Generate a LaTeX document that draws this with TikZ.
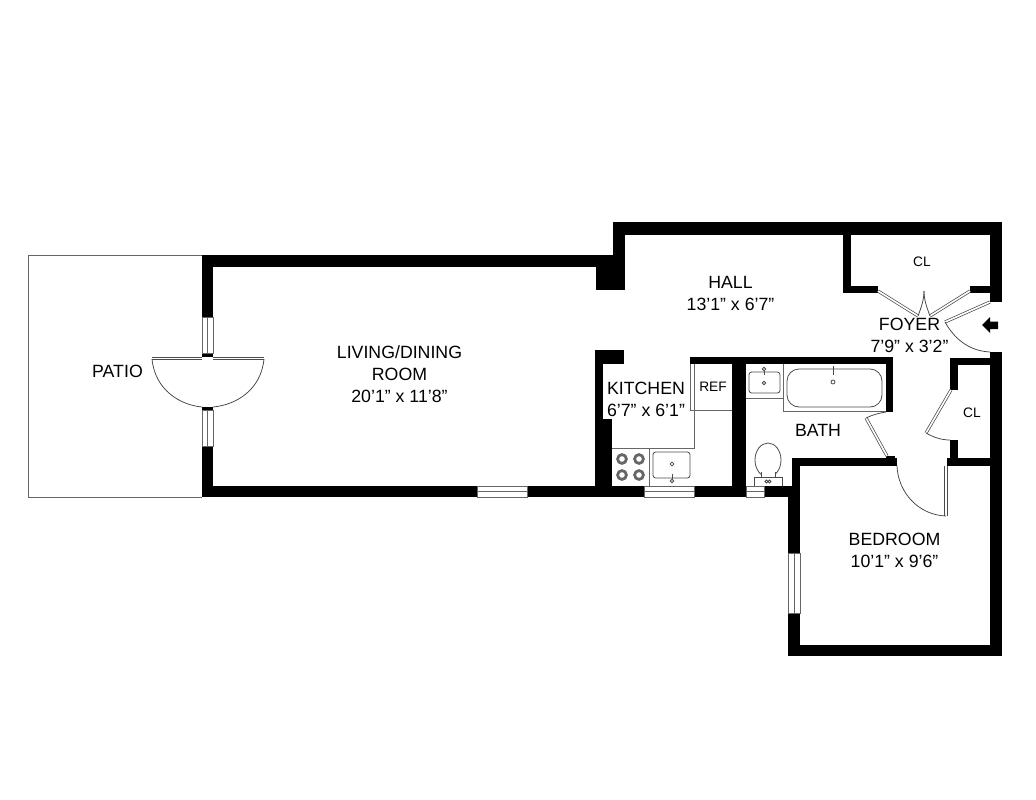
\documentclass[tikz,border=0pt]{standalone}
\usepackage{fontspec}
\setmainfont{Liberation Sans}
\tikzset{
    wall/.style={fill=black},
    fixture/.style={draw=black!70,line width=0.6pt},
    thinline/.style={draw=black!60,line width=0.6pt},
    leaf/.style={draw=black!70,double=white,line width=0.55pt,double distance=1.2pt},
    swing/.style={draw=black!75,line width=0.55pt},
    glass/.style={draw=black!60,fill=white,line width=0.55pt},
    room/.style={align=center,font=\fontsize{13.3}{16.6}\selectfont,inner sep=0pt},
    small/.style={font=\fontsize{10.3}{12}\selectfont,inner sep=0pt}
}
\begin{document}
\begin{tikzpicture}[x=0.75pt,y=-0.75pt]
    \useasboundingbox (0,0) rectangle (1036,800);
    % patio
    \draw[black!60,line width=0.6pt] (202,255) -- (28,255) -- (28,497) -- (202,497);
    % outer walls
    \fill[wall] (202,255) rectangle (625,267);
    \fill[wall] (202,255) rectangle (213,317);
    \fill[wall] (202,353) rectangle (213,357);
    \fill[wall] (202,407) rectangle (213,410);
    \fill[wall] (202,446) rectangle (213,497);
    \fill[wall] (202,486) rectangle (477,497);
    \fill[wall] (527,486) rectangle (644,497);
    \fill[wall] (694,486) rectangle (746,497);
    \fill[wall] (764,486) rectangle (799,497);
    \fill[wall] (613,222) rectangle (1002,235);
    \fill[wall] (613,222) rectangle (625,290);
    \fill[wall] (596,267) rectangle (625,290);
    \fill[wall] (990,222) rectangle (1002,302);
    \fill[wall] (990,352) rectangle (1002,656);
    % closets
    \fill[wall] (843,235) rectangle (851,293);
    \fill[wall] (843,286) rectangle (878,293);
    \fill[wall] (970,286) rectangle (990,293);
    \fill[wall] (950,358) rectangle (990,365);
    \fill[wall] (950,358) rectangle (958,390);
    \fill[wall] (950,440) rectangle (958,466);
    \fill[wall] (947,458) rectangle (990,466);
    % kitchen and bath
    \fill[wall] (595,350) rectangle (624,364);
    \fill[wall] (595,350) rectangle (603,419);
    \fill[wall] (595,419) rectangle (612,497);
    \fill[wall] (690,357) rectangle (893,364);
    \fill[wall] (732,357) rectangle (746,497);
    \fill[wall] (886,357) rectangle (893,412);
    % bedroom
    \fill[wall] (792,458) rectangle (897,466);
    \fill[wall] (792,458) rectangle (800,490);
    \fill[wall] (788,486) rectangle (800,553);
    \fill[wall] (788,613) rectangle (800,656);
    \fill[wall] (788,645) rectangle (1002,656);
    \fill[wall] (886,456) rectangle (895,460);
    % windows
    \draw[glass] (202,317) rectangle (213,353);
    \draw[thinline] (207.5,317) -- (207.5,353);
    \draw[glass] (202,410) rectangle (213,446);
    \draw[thinline] (207.5,410) -- (207.5,446);
    \draw[glass] (477,486) rectangle (527,497);
    \draw[thinline] (477,491.5) -- (527,491.5);
    \draw[glass] (644,486) rectangle (694,497);
    \draw[thinline] (644,491.5) -- (694,491.5);
    \draw[glass] (746,486) rectangle (764,497);
    \draw[thinline] (746,491.5) -- (764,491.5);
    \draw[glass] (788,553) rectangle (800,613);
    \draw[thinline] (794,553) -- (794,613);
    % patio doors
    \draw[leaf] (152,358.5) -- (202,358.5);
    \draw[leaf] (213,358.5) -- (264,358.5);
    \draw[swing] (152,359) .. controls (155,390) and (180,405) .. (202,407);
    \draw[swing] (264,359) .. controls (261,390) and (236,405) .. (213,407);
    % closet doors
    \draw[leaf] (878,291) -- (918,316);
    \draw[leaf] (970,291) -- (930,316);
    \draw[swing] (918,316) .. controls (921,308) and (924,300) .. (924,291);
    \draw[swing] (930,316) .. controls (927,308) and (924,300) .. (924,291);
    \draw[leaf] (990,302) -- (945,322);
    \draw[swing] (945,322) .. controls (955,340) and (970,351) .. (990,352);
    \draw[leaf] (951,390) -- (926,433);
    \draw[swing] (926,433) .. controls (933,437) and (941,440) .. (950,440);
    % bath and bedroom doors
    \draw[leaf] (866,418) -- (887,456);
    \draw[swing] (866,418) .. controls (872,415) and (879,413) .. (886,412);
    \draw[leaf] (946,466) -- (946,516);
    \draw[swing] (897,466) .. controls (898,492) and (918,515) .. (946,516);
    % kitchen fixtures
    \draw[thinline] (690,364) -- (690,410) -- (732,410);
    \draw[thinline] (694,364) -- (694,448) -- (612,448);
    \draw[thinline] (649,448) -- (649,486);
    \foreach \bx in {622,639}
        \foreach \by in {459,475}
        {
            \draw[black!60,line width=2.1pt] (\bx,\by) circle (4.4);
        }
    \draw[fixture,rounded corners=2pt] (653,452) rectangle (690,478);
    \draw[fixture] (672,464) circle (1.9);
    \draw[fixture] (672,481) circle (1.7);
    \draw[fixture] (672,474) -- (672,479);
    % bath fixtures
    \draw[thinline] (746,398) -- (783,398);
    \draw[thinline] (783,364) -- (783,411) -- (886,411);
    \draw[fixture,rounded corners=2pt] (749,372) rectangle (780,393);
    \draw[fixture] (764,383) circle (1.7);
    \draw[fixture] (764,369) circle (1.7);
    \draw[fixture] (764,371) -- (764,375);
    \draw[fixture,rounded corners=9pt] (787,369) rectangle (882,407);
    \draw[fixture] (833,382) circle (2);
    \draw[fixture] (833,366) -- (833,375);
    \draw[fixture] (768,460) ellipse (13 and 17);
    \draw[fixture,fill=white] (761,472) -- (761,477) -- (775,477) -- (775,472);
    \draw[fixture] (754,486) -- (754,477) -- (782,477) -- (782,486);
    \draw[fixture] (766.5,481.5) circle (1.5);
    \draw[fixture] (769.5,481.5) circle (1.5);
    % entry arrow
    \fill[wall] (982,325) -- (990,317) -- (990,321.5) -- (998,321.5) -- (998,329) -- (990,329) -- (990,333) -- cycle;
    % labels
    \node[room] (patio) at (117.5,371) {PATIO};
    \node[room] (living) at (399.5,374.5) {LIVING/DINING\\ROOM\\20’1” x 11’8”};
    \node[room] (hall) at (730.5,293.5) {HALL\\13’1” x 6’7”};
    \node[room] (kitchen) at (646,399.5) {KITCHEN\\6’7” x 6’1”};
    \node[small] (ref) at (713,386.5) {REF};
    \node[room] (bath) at (818,430) {BATH};
    \node[small] (clone) at (922,261.5) {CL};
    \node[small] (cltwo) at (972,413) {CL};
    \node[room] (foyer) at (909.5,335.5) {FOYER\\7’9” x 3’2”};
    \node[room] (bedroom) at (894.5,550.5) {BEDROOM\\10’1” x 9’6”};
\end{tikzpicture}
\end{document}
